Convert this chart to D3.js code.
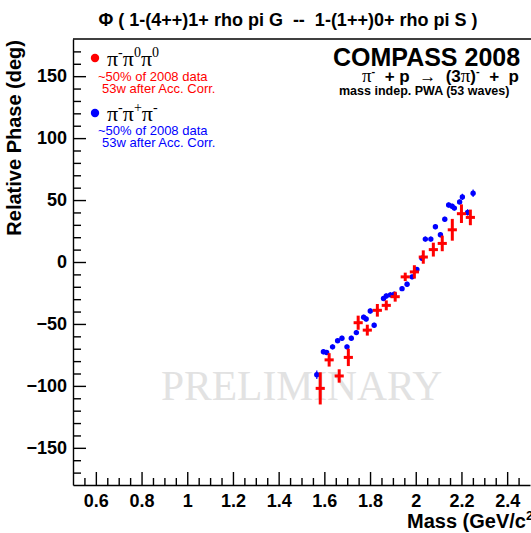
<!DOCTYPE html>
<html><head><meta charset="utf-8">
<script src="https://cdn.jsdelivr.net/npm/d3@7"></script>
<style>
html,body{margin:0;padding:0;background:#fff;}
svg{display:block;}
text{font-family:"Liberation Sans",Arial,sans-serif;white-space:pre;}
.serif{font-family:"Liberation Serif","Times New Roman",serif;}
</style></head>
<body>
<svg id="chart" width="531" height="533"></svg>
<script>
// ---- data ----
const redMass  = [1.582,1.621,1.665,1.705,1.748,1.788,1.832,1.871,1.910,1.954,1.994,2.033,2.077,2.116,2.160,2.200,2.239];
const redPhase = [-102,-79,-92,-77,-49,-55,-39,-35,-28,-12,-8,4,10,15,26,39,36];
const redErr   = [13,5.4,5.4,7,5.7,4.4,5.1,4,4,3.4,5.4,5.4,5.6,6.3,8.8,7.5,6.3];
const redMassErr = 0.02;

const blueMass  = [1.567,1.596,1.610,1.636,1.658,1.677,1.699,1.718,1.740,1.772,1.783,1.801,1.818,1.859,1.871,1.889,1.906,1.940,1.962,1.984,2.005,2.027,2.042,2.066,2.086,2.108,2.127,2.144,2.159,2.169,2.192,2.204,2.227,2.251];
const bluePhase = [-91,-72.5,-73,-68.5,-63.5,-61.5,-68.5,-61.5,-57,-44.5,-46,-39.5,-51,-29.5,-27.5,-26.5,-26,-21.5,-18,-12,-6,3,18.5,18.5,28.5,22,34.5,46,45,43.5,48.5,52.5,40,55.5];
const blueErr   = [3.4,2,2,2,2,2,2,2,2,2,2,2,2,2,2,2,2,2,2,2,2,2,2,2,2,2,2,2,2,2,2,2.5,2.5,3];

const xMajorTicks = [0.6,0.8,1.0,1.2,1.4,1.6,1.8,2.0,2.2,2.4];
const yMajorTicks = [-150,-100,-50,0,50,100,150];

const titleText = "Φ ( 1-(4++)1+ rho pi G  --  1-(1++)0+ rho pi S )";
const xLabel = "Mass (GeV/c";
const yLabel = "Relative Phase (deg)";

// ---- layout ----
const svg = d3.select("#chart");
const x = d3.scaleLinear().domain([0.5, 2.5]).range([73, 530]);
const y = d3.scaleLinear().domain([-180, 180]).range([485, 39]);

// watermark
svg.append("text").attr("class","serif")
  .attr("x",161).attr("y",400)
  .attr("font-size",41.5).attr("fill","#e2e2e2")
  .text("PRELIMINARY");

// axes
const xMinor = d3.range(0.55, 2.5, 0.05).filter(v => !xMajorTicks.some(t => Math.abs(t-v)<1e-6));
const yMinor = d3.range(-170, 180, 10).filter(v => v % 50 !== 0);

const gx = svg.append("g").attr("transform","translate(0,485)");
gx.call(d3.axisBottom(x).tickValues(xMinor).tickSize(-7).tickSizeOuter(0).tickFormat(""));
gx.call(g => g.select(".domain").remove());
const gx2 = svg.append("g").attr("transform","translate(0,485)");
gx2.call(d3.axisBottom(x).tickValues(xMajorTicks).tickSize(-13).tickSizeOuter(0).tickPadding(9)
  .tickFormat(d => d3.format("")(+d.toFixed(1))));

const gy = svg.append("g").attr("transform","translate(73,0)");
gy.call(d3.axisLeft(y).tickValues(yMinor).tickSize(-8).tickSizeOuter(0).tickFormat(""));
gy.call(g => g.select(".domain").remove());
const gy2 = svg.append("g").attr("transform","translate(73,0)");
gy2.call(d3.axisLeft(y).tickValues(yMajorTicks).tickSize(-13).tickSizeOuter(0).tickPadding(6));

svg.selectAll(".tick text").attr("font-size",18).attr("font-weight","bold")
  .attr("font-family","Liberation Sans, Arial, sans-serif").attr("fill","#000");
svg.selectAll(".tick line, .domain").attr("stroke","#000").attr("stroke-width",1.4);

// top frame line
svg.append("line").attr("x1",x(0.5)).attr("x2",531).attr("y1",y(180)).attr("y2",y(180))
  .attr("stroke","#000").attr("stroke-width",1.4);

// axis labels
svg.append("text").attr("x",407).attr("y",528).attr("font-size",20).attr("font-weight","bold")
  .text(xLabel).append("tspan").attr("dy",-8).attr("font-size",13).text("2)");
svg.append("text").attr("transform","translate(21,40) rotate(-90)")
  .attr("text-anchor","end").attr("font-size",20).attr("font-weight","bold").text(yLabel);

// title
svg.append("text").attr("x",288).attr("y",26).attr("text-anchor","middle")
  .attr("font-size",18).attr("font-weight","bold").text(titleText);

// top right annotations
svg.append("text").attr("x",333).attr("y",66).attr("font-size",25).attr("font-weight","bold").text("COMPASS 2008");
const rx = svg.append("text").attr("x",362).attr("y",82).attr("font-size",17).attr("font-weight","bold");
rx.append("tspan").attr("class","serif").attr("font-weight","normal").attr("font-size",19).text("π");
rx.append("tspan").attr("dy",-7).attr("font-size",11).text("-");
rx.append("tspan").attr("dy",7).text("  + p  ");
rx.append("tspan").attr("class","serif").attr("font-weight","normal").text("→");
rx.append("tspan").text("  (3");
rx.append("tspan").attr("class","serif").attr("font-weight","normal").attr("font-size",19).text("π");
rx.append("tspan").text(")");
rx.append("tspan").attr("dy",-7).attr("font-size",11).text("-");
rx.append("tspan").attr("dy",7).text("  +  p");
svg.append("text").attr("x",339).attr("y",95).attr("font-size",12.5).attr("font-weight","bold").text("mass indep. PWA (53 waves)");

// legend
function legendEntry(cy, color, sups, l1y){
  svg.append("circle").attr("cx",95).attr("cy",cy).attr("r",4.2).attr("fill",color);
  const t = svg.append("text").attr("class","serif").attr("x",107).attr("y",cy+8).attr("font-size",22);
  sups.forEach((s,i) => {
    t.append("tspan").attr("dy", i===0 ? 0 : 9).text("π");
    t.append("tspan").attr("dy",-9).attr("font-size",14).text(s);
  });
  svg.append("text").attr("x",98).attr("y",l1y).attr("font-size",13).attr("fill",color).text("~50% of 2008 data");
  svg.append("text").attr("x",102).attr("y",l1y+12).attr("font-size",13).attr("fill",color).text("53w after Acc. Corr.");
}
legendEntry(58, "#ff0000", ["-","0","0"], 81);
legendEntry(113, "#0000ff", ["-","+","-"], 135);

// data: blue
const blue = blueMass.map((m,i)=>({m, p:bluePhase[i], e:blueErr[i]}));
const gb = svg.append("g");
gb.selectAll("line").data(blue).join("line")
  .attr("x1",d=>x(d.m)).attr("x2",d=>x(d.m)).attr("y1",d=>y(d.p-d.e)).attr("y2",d=>y(d.p+d.e))
  .attr("stroke","#0000ff").attr("stroke-width",1.2);
gb.selectAll("circle").data(blue).join("circle")
  .attr("cx",d=>x(d.m)).attr("cy",d=>y(d.p)).attr("r",2.7).attr("fill","#0000ff");

// data: red
const red = redMass.map((m,i)=>({m, p:redPhase[i], e:redErr[i]}));
const gr = svg.append("g");
gr.selectAll("line.v").data(red).join("line").attr("class","v")
  .attr("x1",d=>x(d.m)).attr("x2",d=>x(d.m)).attr("y1",d=>y(d.p-d.e)).attr("y2",d=>y(d.p+d.e))
  .attr("stroke","#ff0000").attr("stroke-width",3);
gr.selectAll("line.h").data(red).join("line").attr("class","h")
  .attr("x1",d=>x(d.m-redMassErr)).attr("x2",d=>x(d.m+redMassErr)).attr("y1",d=>y(d.p)).attr("y2",d=>y(d.p))
  .attr("stroke","#ff0000").attr("stroke-width",3);
</script>
</body></html>
